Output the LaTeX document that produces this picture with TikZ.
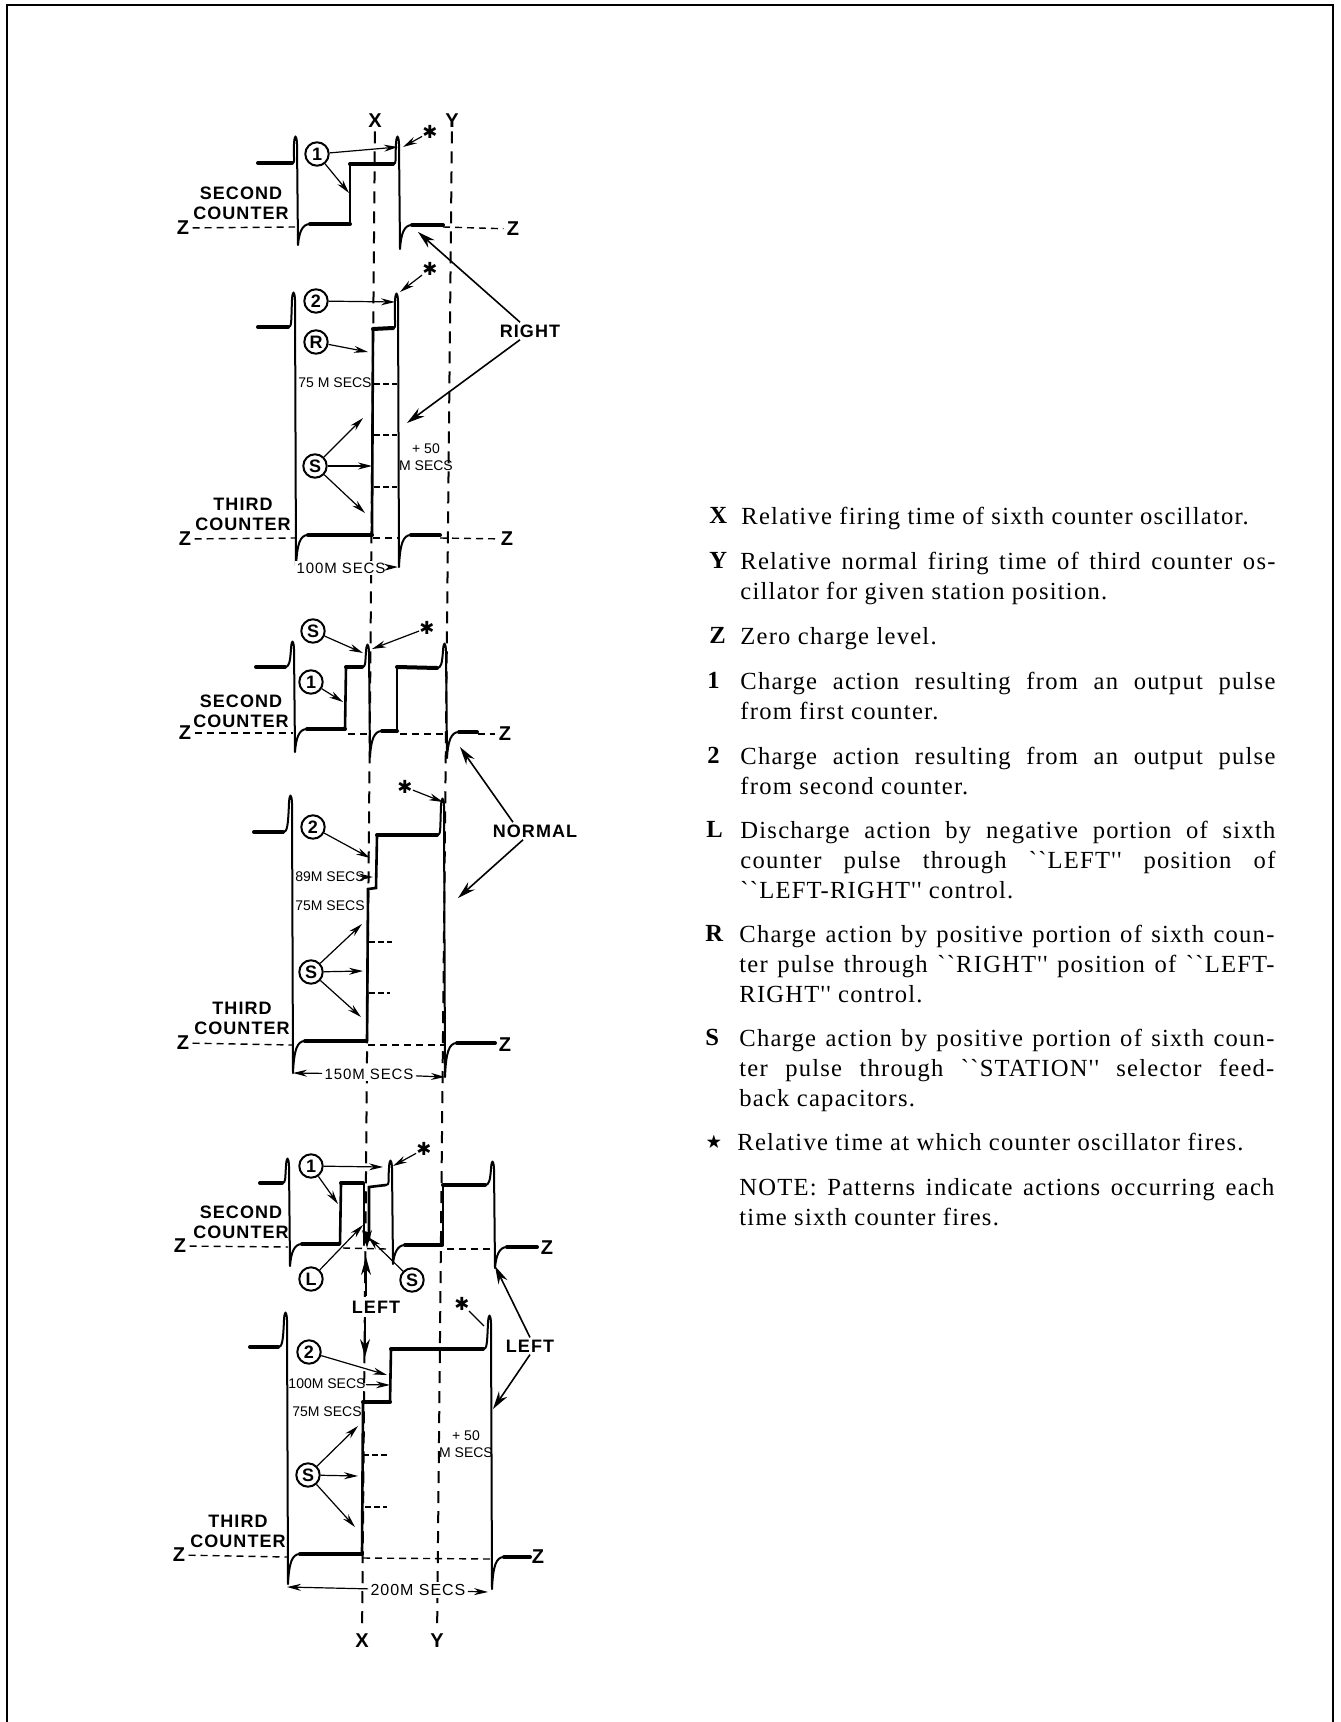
\documentclass[tikz,border=0pt]{standalone}
\usepackage{amsmath,amssymb}
\usepackage{fontspec}
\setmainfont{Liberation Serif}
\newfontfamily\legendfont[LetterSpace=5]{Liberation Serif}
\newfontfamily\labelfont[LetterSpace=6]{Liberation Sans}
\newfontfamily\tinyfont{Liberation Sans}
\newfontfamily\starfont{DejaVu Sans}
\usepackage{tikz}
\usetikzlibrary{arrows.meta,positioning}
\tikzset{
  wavethin/.style={line width=1pt, line join=round},
  wavemid/.style={line width=1.3pt, line cap=round},
  waveheavy/.style={line width=2pt, line cap=round},
  guide/.style={line width=1pt, dash pattern=on 6pt off 4pt},
  zeroline/.style={line width=0.7pt, dash pattern=on 3.5pt off 2.5pt},
  marksdash/.style={line width=0.6pt, dash pattern=on 3pt off 1.5pt},
  callout/.style={line width=0.6pt, -{Stealth[length=7pt,width=3.5pt]}},
  bigcallout/.style={line width=0.8pt, -{Stealth[length=9pt,width=5pt]}},
  plainlabel/.style={inner sep=0pt, font=\labelfont\bfseries\fontsize{9}{10}\selectfont, align=center},
  zedlabel/.style={inner sep=1.5pt, font=\tinyfont\bfseries\fontsize{10}{10}\selectfont},
  tinylabel/.style={inner sep=0pt, font=\tinyfont\fontsize{7}{8.5}\selectfont, align=center},
  tinywide/.style={inner sep=1pt, fill=white, font=\labelfont\fontsize{7.5}{9}\selectfont},
  starmark/.style={inner sep=0pt, font=\starfont\fontsize{9}{9}\selectfont},
  circlabel/.style={circle, draw, line width=1pt, minimum size=11.7pt, inner sep=0pt, font=\tinyfont\bfseries\fontsize{9}{9}\selectfont},
  legendkey/.style={anchor=north west, inner sep=0pt, font=\fontsize{12.3}{15}\selectfont\bfseries},
  legendtext/.style={anchor=north west, inner sep=0pt, text width=267.5pt, align=justify, font=\legendfont\fontsize{12.3}{15}\selectfont},
}
% one pulse: flat end x, flat y, peak x, peak y, bottom y, end x, end y
\newcommand{\pulse}[7]{
  \draw[wavethin] (#1,#2) .. controls ({#1+4},#2) and ({#3-3},{#2-4}) .. ({#3-2},{#4+9})
    .. controls ({#3-1.5},{#4-1}) and ({#3+0.5},{#4-1}) .. ({#3+1},{#4+9}) -- ({#3+2},#5)
    .. controls ({#3+3},{#7+9}) and ({#3+6},#7) .. ({#3+14},#7);
  \draw[waveheavy] ({#3+14},#7) -- (#6,#7);
}
\begin{document}
\begin{tikzpicture}[x=0.5pt,y=-0.5pt]
  \useasboundingbox (0,0) rectangle (1340,1722);
  % page frame, open at the foot
  \draw[line width=1.4pt] (7,1722) -- (7,5) -- (1333,5) -- (1333,1722);

  % X and Y time lines
  \node[zedlabel] (xTop) at (375,121) {X};
  \node[zedlabel] (yTop) at (452,121) {Y};
  \node[zedlabel] (xBot) at (362,1641) {X};
  \node[zedlabel] (yBot) at (437,1641) {Y};
  \draw[guide] (xTop) -- (xBot);
  \draw[guide] (yTop) -- (yBot);

  % ---- RIGHT, second counter
  \draw[waveheavy] (258,163) -- (292,163);
  \pulse{292}{163}{296}{135}{245}{350}{224}
  \draw[wavemid] (350,224) -- (350,164);
  \draw[waveheavy] (350,164) -- (393,164);
  \pulse{393}{164}{398}{135}{249}{443}{225}
  \node[plainlabel] (secA) at (241,203) {SECOND\\COUNTER};
  \node[zedlabel] (zLA) at (183,228) {Z};
  \node[zedlabel] (zRA) at (513,229) {Z};
  \coordinate (zA1) at (295,227);
  \coordinate (zA2) at (443,227);
  \draw[zeroline] (zLA) -- (zA1);
  \draw[zeroline] (zA2) -- (zRA);
  % ---- RIGHT, third counter
  \draw[waveheavy] (258,327) -- (288,327);
  \pulse{288}{327}{294}{291}{567}{372}{535}
  \draw[wavemid] (372,535) -- (373,330);
  \draw[waveheavy] (373,329) -- (393,328);
  \pulse{393}{328}{397}{292}{567}{440}{535}
  \node[plainlabel] (thiA) at (243,514) {THIRD\\COUNTER};
  \node[zedlabel] (zLB) at (185,539) {Z};
  \node[zedlabel] (zRB) at (507,539) {Z};
  \coordinate (zB1) at (295,538);
  \coordinate (zB2) at (373,538);
  \coordinate (zB3) at (398,538);
  \coordinate (zB4) at (440,538);
  \draw[zeroline] (zLB) -- (zB1);
  \draw[zeroline] (zB2) -- (zB3);
  \draw[zeroline] (zB4) -- (zRB);
  \foreach \dy in {384,435,487}
    \draw[marksdash] (374,\dy) -- (397,\dy);

  % ---- NORMAL, second counter
  \draw[waveheavy] (256,667) -- (285,667);
  \pulse{285}{667}{293}{640}{752}{345}{729}
  \draw[wavemid] (345,729) -- (346,667);
  \draw[waveheavy] (346,667) -- (362,667);
  \pulse{362}{667}{368}{643}{757}{397}{731}
  \draw[wavemid] (397,731) -- (397,667);
  \draw[waveheavy] (397,667) -- (437,668);
  \pulse{437}{668}{445}{642}{758}{477}{732}
  \node[plainlabel] (secB) at (241,711) {SECOND\\COUNTER};
  \node[zedlabel] (zLC) at (185,733) {Z};
  \node[zedlabel] (zRC) at (505,734) {Z};
  \coordinate (zC1) at (293,733);
  \coordinate (zC2) at (348,734);
  \coordinate (zC3) at (370,734);
  \coordinate (zC4) at (400,734);
  \coordinate (zC5) at (447,734);
  \coordinate (zC6) at (478,734);
  \draw[zeroline] (zLC) -- (zC1);
  \draw[zeroline] (zC2) -- (zC3);
  \draw[zeroline] (zC4) -- (zC5);
  \draw[zeroline] (zC6) -- (zRC);
  % ---- NORMAL, third counter
  \draw[waveheavy] (254,832) -- (283,832);
  \pulse{283}{832}{291}{794}{1073}{366}{1041}
  \draw[wavemid] (367,1041) -- (368,889) -- (376,888) -- (377,836);
  \draw[waveheavy] (377,835) -- (437,835);
  \pulse{437}{835}{443}{797}{1077}{495}{1043}
  \node[plainlabel] (thiB) at (242,1018) {THIRD\\COUNTER};
  \node[zedlabel] (zLD) at (183,1043) {Z};
  \node[zedlabel] (zRD) at (505,1045) {Z};
  \coordinate (zD1) at (292,1045);
  \coordinate (zD2) at (368,1045);
  \coordinate (zD3) at (445,1045);
  \draw[zeroline] (zLD) -- (zD1);
  \draw[zeroline] (zD2) -- (zD3);
  \foreach \dy/\xe in {942/392,993/390}
    \draw[marksdash] (369,\dy) -- (\xe,\dy);

  % ---- LEFT, second counter
  \draw[waveheavy] (260,1183) -- (282,1183);
  \pulse{282}{1183}{288}{1157}{1266}{339}{1244}
  \draw[wavemid] (340,1244) -- (341,1184);
  \draw[waveheavy] (341,1183) -- (363,1183);
  \draw[wavemid] (364,1184) -- (364,1245);
  \draw[wavemid] (369,1240) -- (369,1187) -- (386,1185);
  \pulse{386}{1185}{391}{1159}{1264}{442}{1245}
  \draw[wavemid] (443,1245) -- (443,1185);
  \draw[waveheavy] (443,1185) -- (485,1185);
  \pulse{485}{1185}{493}{1160}{1268}{537}{1247}
  \node[plainlabel] (secC) at (241,1222) {SECOND\\COUNTER};
  \node[zedlabel] (zLE) at (180,1246) {Z};
  \node[zedlabel] (zRE) at (547,1248) {Z};
  \coordinate (zE1) at (288,1247);
  \coordinate (zE2) at (343,1248);
  \coordinate (zE3) at (387,1249);
  \coordinate (zE4) at (447,1249);
  \coordinate (zE5) at (493,1249);
  \draw[zeroline] (zLE) -- (zE1);
  \draw[zeroline] (zE2) -- (zE3);
  \draw[zeroline] (zE4) -- (zE5);
  % ---- LEFT, third counter
  \draw[waveheavy] (250,1347) -- (278,1347);
  \pulse{278}{1347}{286}{1311}{1584}{362}{1554}
  \draw[wavemid] (362,1554) -- (363,1402);
  \draw[waveheavy] (363,1402) -- (390,1402);
  \draw[wavemid] (390,1402) -- (391,1349);
  \draw[waveheavy] (391,1349) -- (483,1349);
  \pulse{483}{1349}{490}{1314}{1589}{530}{1557}
  \node[plainlabel] (thiC) at (238,1531) {THIRD\\COUNTER};
  \node[zedlabel] (zLF) at (179,1555) {Z};
  \node[zedlabel] (zRF) at (538,1557) {Z};
  \coordinate (zF1) at (287,1557);
  \coordinate (zF2) at (363,1558);
  \coordinate (zF3) at (490,1559);
  \draw[zeroline] (zLF) -- (zF1);
  \draw[zeroline] (zF2) -- (zF3);
  \foreach \dy/\xs/\xe in {1455/363/388,1507/365/387}
    \draw[marksdash] (\xs,\dy) -- (\xe,\dy);

  % circled letters and stars
  \foreach \nm/\x/\y/\t in {oneA/317/154/1, twoA/316/301/2, rA/316/342/R, sA/315/466/S,
      sB/313/631/S, oneB/311/682/1, twoB/313/827/2, sC/311/972/S,
      oneC/311/1166/1, lC/311/1279/L, sD/412/1280/S, twoC/309/1352/2, sE/308/1475/S}
    \node[circlabel] (\nm) at (\x,\y) {\t};
  \foreach \nm/\x/\y in {starA/430/132, starB/430/269, starC/427/628, starD/405/787,
      starE/424/1149, starF/462/1304}
    \node[starmark] (\nm) at (\x,\y) {✱};

  % free ends of the arrows
  \foreach \nm/\x/\y in {tOneAa/398/147, tOneAb/349/193, tStarA/403/147, tTwoA/395/302, tStarB/400/292,
      tR/368/352, tSAa/363/418, tSAb/372/466, tSAc/365/513,
      tSB/363/653, tStarC/372/649, tOneB/343/702, tTwoB/370/858, tStarD/443/802,
      tSCa/362/924, tSCb/363/971, tSCc/361/1017,
      tOneCa/383/1167, tOneCb/338/1204, tStarE/393/1166, tLC/363/1225, tSD/368/1237,
      tTwoC/387/1375, tSEa/358/1426, tSEb/358/1476, tSEc/355/1527, tStarF/484/1326}
    \coordinate (\nm) at (\x,\y);
  \draw[callout] (oneA) -- (tOneAa);
  \draw[callout] (oneA) -- (tOneAb);
  \draw[callout] (starA) -- (tStarA);
  \draw[callout] (twoA) -- (tTwoA);
  \draw[callout] (starB) -- (tStarB);
  \draw[callout] (rA) -- (tR);
  \foreach \e in {tSAa,tSAb,tSAc} \draw[callout] (sA) -- (\e);
  \draw[callout] (sB) -- (tSB);
  \draw[callout] (starC) -- (tStarC);
  \draw[callout] (oneB) -- (tOneB);
  \draw[callout] (twoB) -- (tTwoB);
  \draw[callout] (starD) -- (tStarD);
  \foreach \e in {tSCa,tSCb,tSCc} \draw[callout] (sC) -- (\e);
  \draw[callout] (oneC) -- (tOneCa);
  \draw[callout] (oneC) -- (tOneCb);
  \draw[callout] (starE) -- (tStarE);
  \draw[callout] (lC) -- (tLC);
  \draw[callout] (sD) -- (tSD);
  \draw[callout] (twoC) -- (tTwoC);
  \foreach \e in {tSEa,tSEb,tSEc} \draw[callout] (sE) -- (\e);
  \draw[line width=0.6pt] (starF) -- (tStarF);

  % time labels
  \node[tinylabel] (lblA) at (335,383) {75 M SECS};
  \node[tinylabel] (lblB) at (426,457) {+ 50\\M SECS};
  \node[tinywide] (lblC) at (341,568) {100M SECS};
  \coordinate (tLblC) at (398,567);
  \draw[callout] (lblC) -- (tLblC);
  \node[tinylabel] (lblD) at (330,877) {89M SECS};
  \coordinate (tLblD) at (373,877);
  \draw[callout] (lblD) -- (tLblD);
  \node[tinylabel] (lblE) at (330,906) {75M SECS};
  \node[tinywide] (lblF) at (369,1074) {150M SECS};
  \coordinate (tLblFa) at (293,1073);
  \coordinate (tLblFb) at (445,1077);
  \draw[callout] (lblF) -- (tLblFa);
  \draw[callout] (lblF) -- (tLblFb);
  \node[tinylabel] (lblG) at (327,1384) {100M SECS};
  \coordinate (tLblG) at (390,1385);
  \draw[callout] (lblG) -- (tLblG);
  \node[tinylabel] (lblH) at (327,1412) {75M SECS};
  \node[tinylabel] (lblI) at (466,1444) {+ 50\\M SECS};
  \node[tinywide, font=\labelfont\fontsize{8}{9}\selectfont] (lblJ) at (418,1590) {200M SECS};
  \coordinate (tLblJa) at (287,1587);
  \coordinate (tLblJb) at (488,1592);
  \draw[callout] (lblJ) -- (tLblJa);
  \draw[callout] (lblJ) -- (tLblJb);

  % position labels
  \node[plainlabel] (rightLbl) at (530,331) {RIGHT};
  \coordinate (tRightA) at (418,232);
  \coordinate (tRightB) at (407,423);
  \draw[bigcallout] ([xshift=-5pt,yshift=1pt]rightLbl.north) -- (tRightA);
  \draw[bigcallout] ([xshift=-5pt,yshift=-1pt]rightLbl.south) -- (tRightB);
  \node[plainlabel] (normalLbl) at (535,831) {NORMAL};
  \coordinate (tNormalA) at (460,747);
  \coordinate (tNormalB) at (458,898);
  \draw[bigcallout] ([xshift=-11pt,yshift=1pt]normalLbl.north) -- (tNormalA);
  \draw[bigcallout] ([xshift=-6pt,yshift=-1pt]normalLbl.south) -- (tNormalB);
  \node[plainlabel] (leftLbl) at (530,1346) {LEFT};
  \coordinate (tLeftA) at (495,1266);
  \coordinate (tLeftB) at (493,1409);
  \draw[bigcallout] ([yshift=1pt]leftLbl.north) -- (tLeftA);
  \draw[bigcallout] ([yshift=-1pt]leftLbl.south) -- (tLeftB);
  \node[plainlabel, fill=white, inner sep=2pt] (leftMid) at (376,1307) {LEFT};
  \coordinate (tMidA) at (366,1257);
  \coordinate (tMidB) at (365,1357);
  \coordinate (tMidC) at (367,1248);
  \coordinate (sMidC) at (367,1232);
  \draw[bigcallout] (leftMid.north -| tMidA) -- (tMidA);
  \draw[bigcallout] (leftMid.south -| tMidB) -- (tMidB);
  \draw[bigcallout] (sMidC) -- (tMidC);

  % legend
  \foreach \nm/\x/\y/\t in {kX/709/507/X, kY/709/552/Y, kZ/709/627/Z, kOne/707/672/1, kTwo/707/747/2,
      kL/706/821/L, kR/705/925/R, kS/705/1029/S}
    \node[legendkey] (\nm) at (\x,\y) {\t};
  \node[legendkey, font=\footnotesize] (kStar) at (706,1135) {$\bigstar$};
  \node[legendtext] (tX) at (741,507) {Relative firing time of sixth counter oscillator.};
  \node[legendtext] (tY) at (740,552) {Relative normal firing time of third counter os-\linebreak cillator for given station position.};
  \node[legendtext] (tZ) at (740,627) {Zero charge level.};
  \node[legendtext] (tOne) at (740,672) {Charge action resulting from an output pulse\linebreak from first counter.};
  \node[legendtext] (tTwo) at (740,747) {Charge action resulting from an output pulse\linebreak from second counter.};
  \node[legendtext] (tL) at (740,821) {Discharge action by negative portion of sixth\linebreak counter pulse through ``LEFT'' position of\linebreak ``LEFT-RIGHT'' control.};
  \node[legendtext] (tR) at (739,925) {Charge action by positive portion of sixth coun-\linebreak ter pulse through ``RIGHT'' position of ``LEFT-\linebreak RIGHT'' control.};
  \node[legendtext] (tS) at (739,1029) {Charge action by positive portion of sixth coun-\linebreak ter pulse through ``STATION'' selector feed-\linebreak back capacitors.};
  \node[legendtext] (tStar) at (737,1133) {Relative time at which counter oscillator fires.};
  \node[legendtext] (tNote) at (739,1178) {NOTE: Patterns indicate actions occurring each\linebreak time sixth counter fires.};
\end{tikzpicture}
\end{document}
